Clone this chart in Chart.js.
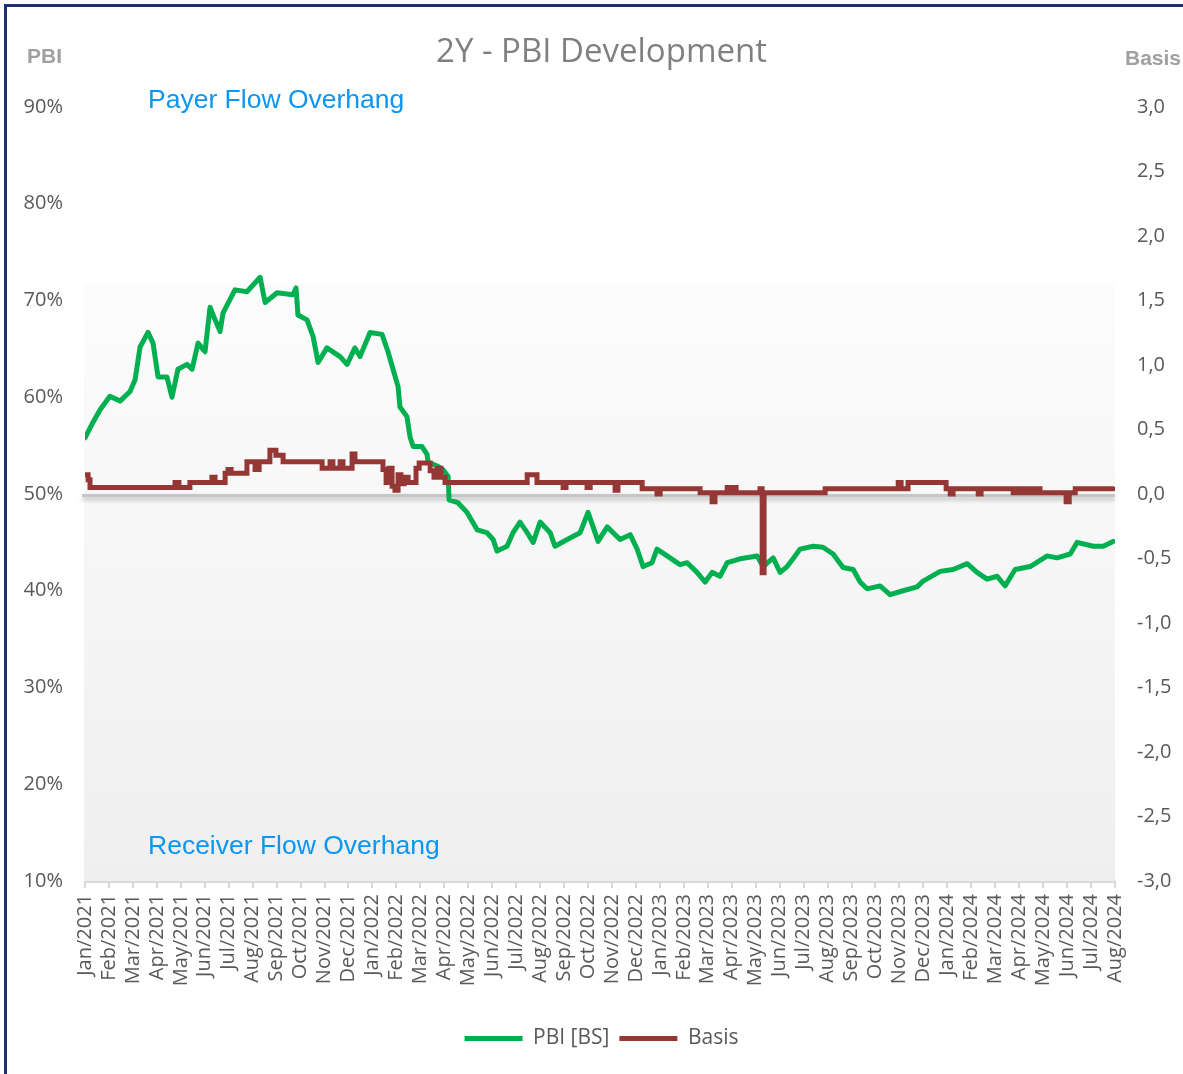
<!DOCTYPE html>
<html>
<head>
<meta charset="utf-8">
<script src="https://cdn.jsdelivr.net/npm/chart.js@4.4.1/dist/chart.umd.min.js"></script>
<style>
    html, body { margin: 0; padding: 0; background: #fff; }
    #frame { position: absolute; left: 4px; top: 4px; width: 1300px; height: 1200px;
             border-top: 3px solid #1c3170; border-left: 3px solid #1c3170; }
    #wrap { position: absolute; left: 0; top: 0; width: 1183px; height: 1074px; }
    .lbl { position: absolute; white-space: nowrap; line-height: 1; font-family: "Liberation Sans", Arial, sans-serif; }
    .axis-name { font-size: 21px; font-weight: bold; color: #a0a0a0; }
    .flow { font-size: 26.5px; color: #0a96f2; }
</style>
</head>
<body>
<div id="frame"></div>
<div id="wrap">
    <canvas id="pbiChart" width="1183" height="1074"></canvas>
    <div class="lbl axis-name" style="left:27px; top:45px;">PBI</div>
    <div class="lbl axis-name" style="left:1125px; top:47px;">Basis</div>
    <div class="lbl flow" style="left:148px; top:86px;">Payer Flow Overhang</div>
    <div class="lbl flow" style="left:148px; top:832px;">Receiver Flow Overhang</div>
</div>
<script>
// month labels for the x axis (index 0 = Jan/2021)
const monthLabels = [
    'Jan/2021', 'Feb/2021', 'Mar/2021', 'Apr/2021', 'May/2021', 'Jun/2021', 'Jul/2021', 'Aug/2021',
    'Sep/2021', 'Oct/2021', 'Nov/2021', 'Dec/2021', 'Jan/2022', 'Feb/2022', 'Mar/2022', 'Apr/2022',
    'May/2022', 'Jun/2022', 'Jul/2022', 'Aug/2022', 'Sep/2022', 'Oct/2022', 'Nov/2022', 'Dec/2022',
    'Jan/2023', 'Feb/2023', 'Mar/2023', 'Apr/2023', 'May/2023', 'Jun/2023', 'Jul/2023', 'Aug/2023',
    'Sep/2023', 'Oct/2023', 'Nov/2023', 'Dec/2023', 'Jan/2024', 'Feb/2024', 'Mar/2024', 'Apr/2024',
    'May/2024', 'Jun/2024', 'Jul/2024', 'Aug/2024'
];

// PBI [BS] - position in months since Jan/2021 and value in %
const pbiMonths = [
    0.00, 0.33, 0.63, 1.04, 1.46, 1.88, 2.09, 2.30, 2.63, 2.84, 3.05, 3.42, 3.63, 3.88, 4.26, 4.47,
    4.72, 5.01, 5.22, 5.43, 5.64, 5.76, 6.26, 6.76, 7.31, 7.52, 8.02, 8.68, 8.81, 8.89, 9.27, 9.52,
    9.73, 10.10, 10.65, 10.94, 11.27, 11.48, 11.90, 12.40, 12.65, 12.86, 13.07, 13.15, 13.44, 13.57,
    13.70, 14.07, 14.28, 14.32, 14.70, 14.95, 15.16, 15.20, 15.57, 15.95, 16.37, 16.78, 17.04, 17.20,
    17.62, 17.87, 18.16, 18.46, 18.71, 19.00, 19.42, 19.62, 20.13, 20.67, 21.00, 21.21, 21.42, 21.80,
    22.34, 22.76, 23.05, 23.30, 23.67, 23.88, 24.30, 24.84, 25.14, 25.55, 25.89, 26.18, 26.51, 26.81,
    27.35, 28.06, 28.31, 28.73, 29.02, 29.31, 29.56, 29.85, 30.40, 30.81, 31.23, 31.65, 32.07, 32.36,
    32.65, 33.19, 33.61, 34.15, 34.74, 34.99, 35.70, 36.24, 36.83, 37.24, 37.66, 38.08, 38.41, 38.83,
    39.46, 40.17, 40.58, 41.13, 41.42, 42.09, 42.51, 42.92
];
const pbiValues = [
    55.8, 57.4, 58.7, 60.1, 59.6, 60.6, 61.8, 65.2, 66.7, 65.6, 62.1, 62.1, 60.0, 62.9, 63.4, 62.9,
    65.6, 64.7, 69.3, 68.0, 66.8, 68.7, 71.1, 70.9, 72.4, 69.8, 70.8, 70.6, 71.3, 68.5, 68.0, 66.3,
    63.6, 65.1, 64.2, 63.4, 65.1, 64.2, 66.7, 66.5, 64.7, 62.9, 61.1, 59.0, 58.0, 55.9,
    54.9, 54.9, 54.1, 53.3, 52.9, 52.5, 51.8, 49.4, 49.1, 48.1, 46.3, 46.0, 45.3, 44.1,
    44.6, 46.0, 47.1, 46.0, 45.0, 47.1, 46.0, 44.6, 45.3, 46.0, 48.1, 46.6, 45.1, 46.6,
    45.3, 45.8, 44.3, 42.5, 42.9, 44.3, 43.6, 42.7, 42.9, 41.9, 40.9, 41.9, 41.5, 42.9,
    43.3, 43.6, 42.5, 43.4, 41.9, 42.5, 43.3, 44.3, 44.6, 44.5, 43.8, 42.4, 42.2, 40.9,
    40.2, 40.5, 39.6, 40.0, 40.4, 41.0, 42.0, 42.2, 42.8, 41.9, 41.2, 41.5, 40.5, 42.2,
    42.5, 43.6, 43.4, 43.8, 45.0, 44.6, 44.6, 45.1
];

// Basis - step changes (month position, new level)
const basisMonths = [
    0.00, 0.13, 0.21, 3.76, 3.92, 4.38, 5.30, 5.43, 5.85, 5.97, 6.10, 6.76, 7.10, 7.27, 7.72, 7.97,
    8.27, 9.90, 10.23, 10.35, 10.65, 10.77, 11.15, 11.27, 12.44, 12.57, 12.69, 12.82, 12.94, 13.07,
    13.19, 13.32, 13.49, 13.82, 13.95, 14.41, 14.57, 14.70, 14.86, 15.03, 18.46, 18.87, 19.96, 20.08,
    20.96, 21.09, 22.13, 22.25, 23.26, 23.88, 24.01, 25.68, 26.18, 26.30, 26.81, 26.93, 27.06, 27.18,
    28.18, 28.27, 28.35, 30.90, 33.95, 34.07, 34.36, 35.95, 36.12, 36.24, 37.29, 37.41, 38.75, 38.96,
    39.12, 39.33, 39.54, 39.75, 39.87, 40.96, 41.09, 41.34, 42.92
];
const basisValues = [
    0.15, 0.11, 0.05, 0.09, 0.05, 0.09, 0.13, 0.09, 0.16, 0.19, 0.16, 0.25, 0.19, 0.25, 0.34, 0.30,
    0.25, 0.20, 0.25, 0.20, 0.25, 0.20, 0.31, 0.25, 0.19, 0.09, 0.20, 0.06, 0.03, 0.15,
    0.08, 0.13, 0.09, 0.20, 0.24, 0.18, 0.13, 0.20, 0.13, 0.09, 0.15, 0.09, 0.05, 0.09,
    0.05, 0.09, 0.03, 0.09, 0.04, 0.00, 0.04, 0.01, -0.06, 0.01, 0.05, 0.01, 0.05, 0.01,
    0.04, -0.61, 0.01, 0.04, 0.09, 0.04, 0.09, 0.04, 0.00, 0.04, 0.00, 0.04, 0.01, 0.04,
    0.01, 0.04, 0.01, 0.04, 0.01, -0.06, 0.01, 0.04, 0.04
];

const pbiTicks = [10, 20, 30, 40, 50, 60, 70, 80, 90];
const basisTicks = [-3, -2.5, -2, -1.5, -1, -0.5, 0, 0.5, 1, 1.5, 2, 2.5, 3];

const tickColor = '#595959';
const tickFont = { family: '"Open Sans", sans-serif', size: 20 };

// soft grey panel behind the lower part of the plot + the 50% / 0,0 line
const backdrop = {
    id: 'backdrop',
    beforeDatasetsDraw(chart) {
        const { ctx, chartArea } = chart;
        const top = chart.scales.y.getPixelForValue(71.8);
        const grad = ctx.createLinearGradient(0, top, 0, chartArea.bottom);
        grad.addColorStop(0, '#fcfcfc');
        grad.addColorStop(1, '#efefef');
        ctx.save();
        ctx.fillStyle = grad;
        ctx.fillRect(chartArea.left - 1, top, chartArea.right - chartArea.left + 1, chartArea.bottom - top);

        const y0 = chart.scales.y.getPixelForValue(50) + 1.5;
        ctx.shadowColor = 'rgba(0, 0, 0, 0.25)';
        ctx.shadowBlur = 4;
        ctx.shadowOffsetY = 3;
        ctx.strokeStyle = '#c6c6c6';
        ctx.lineWidth = 3;
        ctx.beginPath();
        ctx.moveTo(chartArea.left - 3, y0);
        ctx.lineTo(chartArea.right, y0);
        ctx.stroke();
        ctx.restore();
    }
};

const ctx = document.getElementById('pbiChart').getContext('2d');
new Chart(ctx, {
    type: 'line',
    data: {
        datasets: [
            {
                label: 'PBI [BS]',
                data: pbiMonths.map((m, i) => ({ x: m, y: pbiValues[i] })),
                yAxisID: 'y',
                borderColor: '#00b050',
                borderWidth: 5,
                pointRadius: 0,
                borderJoinStyle: 'round',
                borderCapStyle: 'round',
                order: 2
            },
            {
                label: 'Basis',
                data: basisMonths.map((m, i) => ({ x: m, y: basisValues[i] })),
                yAxisID: 'y1',
                borderColor: '#953735',
                borderWidth: 5,
                pointRadius: 0,
                stepped: true,
                borderCapStyle: 'round',
                order: 1
            }
        ]
    },
    options: {
        responsive: false,
        animation: false,
        layout: { padding: { left: 20, right: 0, top: 0, bottom: 15 } },
        plugins: {
            title: {
                display: true,
                text: '2Y - PBI Development',
                color: '#808080',
                font: { family: '"Open Sans", sans-serif', size: 33, weight: 'normal' },
                padding: { top: 33, bottom: 34.4 }
            },
            legend: {
                position: 'bottom',
                labels: {
                    color: tickColor,
                    font: { family: '"Open Sans", sans-serif', size: 21 },
                    boxWidth: 58,
                    boxHeight: 5,
                    padding: 10,
                    useBorderRadius: true,
                    borderRadius: 2.5,
                    generateLabels: (chart) => chart.data.datasets.map((ds, i) => ({
                        text: ds.label,
                        fillStyle: ds.borderColor,
                        strokeStyle: ds.borderColor,
                        lineWidth: 0,
                        fontColor: tickColor,
                        datasetIndex: i
                    }))
                }
            },
            tooltip: { enabled: false }
        },
        scales: {
            x: {
                type: 'linear',
                min: 0,
                max: monthLabels.length - 1,
                afterFit: (scale) => { scale.height = 137; },
                afterBuildTicks: (scale) => { scale.ticks = monthLabels.map((_, i) => ({ value: i })); },
                ticks: {
                    autoSkip: false,
                    maxRotation: 90,
                    minRotation: 90,
                    padding: 6,
                    color: tickColor,
                    font: { family: '"Open Sans", sans-serif', size: 20 },
                    callback: (value) => monthLabels[value]
                },
                grid: { drawOnChartArea: false, drawTicks: true, tickLength: 7, color: '#d9d9d9', lineWidth: 2 },
                border: { color: '#d9d9d9', width: 3 }
            },
            y: {
                position: 'left',
                min: 10,
                max: 90,
                afterFit: (scale) => { scale.width = 65; },
                afterBuildTicks: (scale) => { scale.ticks = pbiTicks.map(v => ({ value: v })); },
                ticks: {
                    padding: 22,
                    color: tickColor,
                    font: tickFont,
                    callback: (value) => value + '%'
                },
                grid: { display: false, drawTicks: false },
                border: { display: false }
            },
            y1: {
                position: 'right',
                min: -3,
                max: 3,
                afterFit: (scale) => { scale.width = 68; },
                afterBuildTicks: (scale) => { scale.ticks = basisTicks.map(v => ({ value: v })); },
                ticks: {
                    padding: 22,
                    color: tickColor,
                    font: tickFont,
                    callback: (value) => value.toFixed(1).replace('.', ',')
                },
                grid: { display: false, drawTicks: false },
                border: { display: false }
            }
        }
    },
    plugins: [backdrop]
});
</script>
</body>
</html>
